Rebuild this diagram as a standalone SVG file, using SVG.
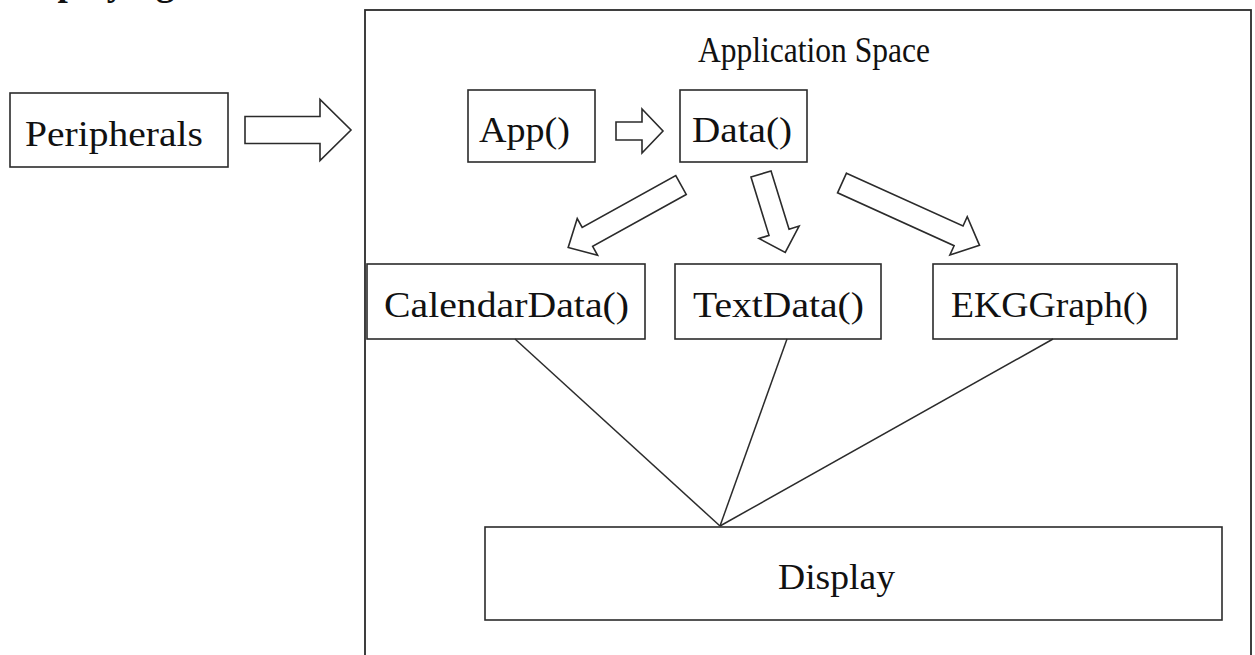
<svg xmlns="http://www.w3.org/2000/svg" width="1255" height="655" viewBox="0 0 1255 655">
  <style>
    .box { fill: #fff; stroke: #2b2b2b; stroke-width: 1.6; }
    .frame { fill: none; stroke: #2b2b2b; stroke-width: 1.8; }
    .lbl { font-family: "Liberation Serif", "DejaVu Serif", serif; font-size: 36px; fill: #111; }
    .head { font-family: "Liberation Serif", "DejaVu Serif", serif; font-size: 37px; font-weight: bold; fill: #111; }
    .harrow { fill: #fff; stroke: #2b2b2b; stroke-width: 1.6; stroke-linejoin: miter; }
    .wire { stroke: #2b2b2b; stroke-width: 1.5; fill: none; }
  </style>

  <rect width="1255" height="655" fill="#fff"/>

  <!-- page heading, mostly above the visible area -->
  <text class="head" x="6" y="-5">Displaying</text>

  <g id="application-space">
    <rect class="frame" x="365" y="10" width="886" height="700"/>
    <text class="lbl" x="698" y="62" font-size="38" textLength="232" lengthAdjust="spacingAndGlyphs">Application Space</text>
  </g>

  <g id="peripherals">
    <rect class="box" x="10" y="93" width="218" height="74"/>
    <text class="lbl" x="25" y="146" textLength="178" lengthAdjust="spacingAndGlyphs">Peripherals</text>
  </g>

  <g id="app">
    <rect class="box" x="468" y="90" width="127" height="72"/>
    <text class="lbl" x="479" y="142" textLength="91" lengthAdjust="spacingAndGlyphs">App()</text>
  </g>

  <g id="data">
    <rect class="box" x="680" y="90" width="127" height="72"/>
    <text class="lbl" x="692" y="142" textLength="100" lengthAdjust="spacingAndGlyphs">Data()</text>
  </g>

  <g id="calendar-data">
    <rect class="box" x="367" y="264" width="278" height="75"/>
    <text class="lbl" x="384" y="317" textLength="245" lengthAdjust="spacingAndGlyphs">CalendarData()</text>
  </g>

  <g id="text-data">
    <rect class="box" x="675" y="264" width="206" height="75"/>
    <text class="lbl" x="693" y="317" textLength="171" lengthAdjust="spacingAndGlyphs">TextData()</text>
  </g>

  <g id="ekg-graph">
    <rect class="box" x="933" y="264" width="244" height="75"/>
    <text class="lbl" x="951" y="317" textLength="197" lengthAdjust="spacingAndGlyphs">EKGGraph()</text>
  </g>

  <g id="display">
    <rect class="box" x="485" y="527" width="737" height="93"/>
    <text class="lbl" x="778" y="589" textLength="117" lengthAdjust="spacingAndGlyphs">Display</text>
  </g>

  <g id="connectors">
    <!-- block arrows: tail at origin, pointing along +x -->
    <polygon class="harrow" transform="translate(245,130)" points="0,-13.5 75,-13.5 75,-30.5 106,0 75,30.5 75,13.5 0,13.5"/>
    <polygon class="harrow" transform="translate(616,131)" points="0,-9 26,-9 26,-22 47,0 26,22 26,9 0,9"/>
    <polygon class="harrow" transform="translate(681,185) rotate(151)" points="0,-10.8 107,-10.8 107,-21 129,0 107,21 107,10.8 0,10.8"/>
    <polygon class="harrow" transform="translate(761,174) rotate(72.8)" points="0,-10.5 61,-10.5 61,-21 82,0 61,21 61,10.5 0,10.5"/>
    <polygon class="harrow" transform="translate(842,183) rotate(24.4)" points="0,-10.8 128,-10.8 128,-21 151,0 128,21 128,10.8 0,10.8"/>

    <!-- plain lines into the display -->
    <line class="wire" x1="515" y1="339" x2="720" y2="526"/>
    <line class="wire" x1="787" y1="339" x2="720" y2="526"/>
    <line class="wire" x1="1053" y1="339" x2="720" y2="526"/>
  </g>
</svg>
